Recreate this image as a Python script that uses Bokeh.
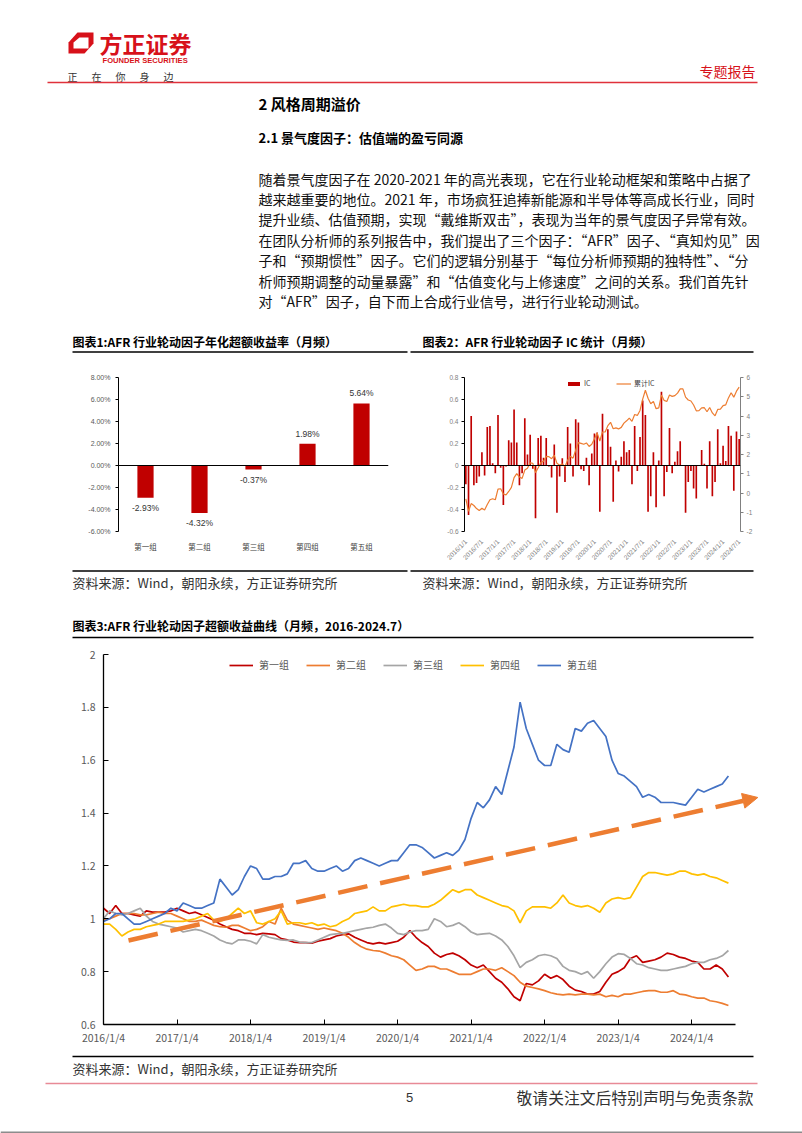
import math
from bokeh.plotting import figure
from bokeh.models import (Range1d, FactorRange, FixedTicker, LinearAxis, Span, Legend, LegendItem,
                          Arrow, NormalHead, PrintfTickFormatter)
from bokeh.layouts import column, row
from bokeh.core.properties import value
from bokeh.embed import file_html
from bokeh.resources import INLINE

CJK = "Noto Sans CJK SC"
LAT = "Liberation Sans"
RED = "#C00000"

# ---------------- data ----------------
groups = ["第一组", "第二组", "第三组", "第四组", "第五组"]
annual_excess = [-2.93, -4.32, -0.37, 1.98, 5.64]
pct_ticks = [-6, -4, -2, 0, 2, 4, 6, 8]

ic_values = [-0.17, -0.45, 0.45, -0.18, -0.16, -0.10, 0.12, -0.09, 0.35, 0.36, 0.02, -0.07,
             0.46, -0.02, -0.36, -0.01, 0.23, 0.21, 0.51, 0.21, -0.18, -0.07, 0.43, 0.10,
             0.28, -0.03, -0.48, 0.25, 0.27, 0.07, 0.25, -0.01, -0.11, 0.19, -0.43, -0.10,
             0.065, -0.15, 0.35, 0.20, -0.10, 0.42, 0.39, -0.035, -0.05, 0.07, -0.18, 0.11,
             0.29, 0.30, -0.42, 0.47, -0.005, 0.33, 0.17, -0.33, 0.045, -0.055, 0.08, 0.22,
             0.12, 0.14, -0.17, 0.36, -0.05, 0.26, 0.59, 0.46, -0.42, -0.28, 0.12, -0.38,
             0.045, 0.67, -0.28, -0.06, 0.34, -0.07, 0.035, 0.13, 0.22, 0.005, -0.43, -0.15,
             -0.05, -0.21, -0.30, 0.005, 0.14, 0.015, -0.21, 0.22, -0.28, -0.15, 0.33, 0.02,
             0.18, 0.04, 0.36, 0.27, -0.23, 0.31, 0.24]
ic_cum = [-0.30, -0.95, -0.55, -0.65, -0.81, -0.91, -0.79, -0.88, -0.60, -0.35, -0.30, -0.35,
          0.20, 0.22, -0.05, -0.10, 0.08, 0.29, 0.80, 1.01, 0.83, 0.76, 1.19, 1.29,
          1.57, 1.54, 1.06, 1.31, 1.58, 1.65, 1.90, 1.89, 1.78, 1.97, 1.54, 1.44,
          1.51, 1.36, 1.71, 1.91, 1.81, 2.23, 2.62, 2.58, 2.53, 2.60, 2.42, 2.53,
          2.82, 3.12, 2.70, 3.17, 3.17, 3.50, 3.67, 3.34, 3.38, 3.33, 3.41, 3.63,
          3.75, 3.89, 3.72, 4.08, 4.03, 4.29, 4.88, 5.34, 4.92, 4.64, 4.76, 4.38,
          4.42, 5.09, 4.81, 4.75, 5.09, 5.02, 5.06, 5.19, 5.41, 5.41, 4.98, 4.83,
          4.78, 4.57, 4.27, 4.28, 4.42, 4.43, 4.22, 4.44, 4.16, 4.01, 4.34, 4.36,
          4.54, 4.58, 4.94, 5.21, 4.98, 5.29, 5.50]
ic_tick_labels = ["2016/1/1", "2016/7/1", "2017/1/1", "2017/7/1", "2018/1/1", "2018/7/1",
                  "2019/1/1", "2019/7/1", "2020/1/1", "2020/7/1", "2021/1/1", "2021/7/1",
                  "2022/1/1", "2022/7/1", "2023/1/1", "2023/7/1", "2024/1/1", "2024/7/1"]
ic_left_ticks = [-0.6, -0.4, -0.2, 0, 0.2, 0.4, 0.6, 0.8]
ic_left_labels = ["-0.6", "-0.4", "-0.2", "0", "0.2", "0.4", "0.6", "0.8"]
ic_right_ticks = [-2, -1, 0, 1, 2, 3, 4, 5, 6]

curve_names = ["第一组", "第二组", "第三组", "第四组", "第五组"]
curve_g1 = [1.04, 1.02, 1.05, 1.02, 1.02, 1.015, 1.01, 1.03, 1.025, 1.025, 1.025, 1.03,
            1.04, 1.03, 1.02, 1.025, 1.015, 1.005, 0.995, 0.98, 0.97, 0.96, 0.955, 0.945,
            0.945, 0.94, 0.945, 0.943, 0.94, 0.925, 0.92, 0.912, 0.91, 0.91, 0.908, 0.915,
            0.92, 0.925, 0.935, 0.94, 0.943, 0.93, 0.92, 0.91, 0.905, 0.91, 0.905, 0.91,
            0.915, 0.93, 0.955, 0.93, 0.91, 0.895, 0.87, 0.855, 0.865, 0.87, 0.86, 0.845,
            0.825, 0.815, 0.825, 0.80, 0.775, 0.76, 0.735, 0.705, 0.69, 0.755, 0.75, 0.765,
            0.79, 0.775, 0.785, 0.77, 0.745, 0.73, 0.725, 0.715, 0.715, 0.725, 0.76, 0.79,
            0.80, 0.815, 0.85, 0.86, 0.835, 0.84, 0.845, 0.855, 0.87, 0.865, 0.855, 0.85,
            0.84, 0.835, 0.81, 0.81, 0.825, 0.81, 0.78]
curve_g2 = [0.995, 1.00, 1.01, 1.02, 1.02, 1.02, 1.015, 1.015, 1.02, 1.025, 1.02, 1.02,
            1.01, 1.00, 0.99, 0.99, 0.995, 0.985, 0.975, 0.97, 0.968, 0.975, 0.975, 0.965,
            0.955, 0.96, 0.97, 0.99, 0.98, 1.04, 0.995, 0.98, 0.975, 0.97, 0.965, 0.96,
            0.965, 0.96, 0.955, 0.945, 0.93, 0.91, 0.895, 0.885, 0.88, 0.878, 0.87, 0.86,
            0.855, 0.845, 0.825, 0.805, 0.81, 0.82, 0.82, 0.81, 0.81, 0.80, 0.79, 0.79,
            0.79, 0.80, 0.81, 0.81, 0.805, 0.815, 0.80, 0.785, 0.76, 0.745, 0.74, 0.735,
            0.728, 0.72, 0.715, 0.712, 0.715, 0.712, 0.715, 0.715, 0.712, 0.715, 0.705, 0.71,
            0.705, 0.715, 0.715, 0.72, 0.725, 0.728, 0.728, 0.722, 0.722, 0.728, 0.715, 0.712,
            0.705, 0.70, 0.70, 0.69, 0.686, 0.68, 0.672]
curve_g3 = [1.00, 1.03, 1.02, 1.015, 1.02, 1.03, 1.04, 1.01, 0.99, 0.98, 0.975, 0.97,
            0.965, 0.95, 0.955, 0.96, 0.955, 0.945, 0.935, 0.92, 0.91, 0.905, 0.92, 0.92,
            0.915, 0.905, 0.94, 0.93, 0.925, 0.92, 0.918, 0.92, 0.912, 0.91, 0.91, 0.92,
            0.93, 0.94, 0.943, 0.945, 0.95, 0.955, 0.96, 0.965, 0.968, 0.975, 0.98, 0.965,
            0.945, 0.94, 0.95, 0.955, 0.955, 0.96, 1.00, 0.99, 0.97, 0.975, 0.985, 0.97,
            0.95, 0.94, 0.943, 0.945, 0.935, 0.92, 0.895, 0.86, 0.815, 0.835, 0.845, 0.86,
            0.865, 0.86, 0.85, 0.82, 0.805, 0.80, 0.79, 0.80, 0.775, 0.80, 0.83, 0.855,
            0.868, 0.865, 0.85, 0.83, 0.825, 0.815, 0.81, 0.805, 0.805, 0.81, 0.815, 0.82,
            0.83, 0.835, 0.835, 0.845, 0.85, 0.86, 0.88]
curve_g4 = [0.98, 0.98, 0.96, 0.935, 0.95, 0.96, 0.96, 0.97, 0.975, 0.98, 0.99, 0.99,
            0.99, 0.99, 0.995, 1.00, 1.01, 1.02, 0.995, 0.99, 1.00, 1.02, 1.04, 1.02,
            1.03, 0.985, 0.98, 0.99, 1.00, 1.03, 0.98, 0.985, 0.985, 0.98, 0.985, 0.975,
            0.98, 0.97, 0.975, 0.99, 1.00, 1.02, 1.025, 1.03, 1.045, 1.03, 1.03, 1.045,
            1.05, 1.055, 1.05, 1.05, 1.045, 1.045, 1.055, 1.07, 1.09, 1.11, 1.10, 1.11,
            1.11, 1.09, 1.08, 1.07, 1.06, 1.05, 1.045, 1.03, 0.985, 1.03, 1.045, 1.045,
            1.045, 1.04, 1.06, 1.09, 1.06, 1.05, 1.045, 1.05, 1.04, 1.025, 1.06, 1.075,
            1.08, 1.075, 1.08, 1.12, 1.16, 1.175, 1.175, 1.17, 1.165, 1.17, 1.18, 1.18,
            1.17, 1.165, 1.17, 1.16, 1.155, 1.145, 1.135]
curve_g5 = [0.99, 1.00, 1.02, 1.02, 1.00, 0.98, 0.98, 0.99, 1.00, 1.01, 1.02, 1.04,
            1.03, 1.06, 1.05, 1.04, 1.04, 1.05, 1.06, 1.15, 1.12, 1.09, 1.11, 1.16,
            1.20, 1.19, 1.15, 1.15, 1.16, 1.16, 1.17, 1.21, 1.21, 1.22, 1.19, 1.18,
            1.18, 1.19, 1.20, 1.18, 1.19, 1.22, 1.23, 1.22, 1.21, 1.20, 1.21, 1.22,
            1.22, 1.25, 1.28, 1.28, 1.27, 1.25, 1.23, 1.24, 1.25, 1.24, 1.26, 1.30,
            1.38, 1.44, 1.42, 1.45, 1.50, 1.47, 1.56, 1.65, 1.82, 1.72, 1.66, 1.60,
            1.58, 1.58, 1.66, 1.64, 1.63, 1.72, 1.71, 1.74, 1.75, 1.72, 1.69, 1.60,
            1.55, 1.54, 1.52, 1.50, 1.46, 1.47, 1.46, 1.44, 1.44, 1.44, 1.435, 1.43,
            1.46, 1.49, 1.48, 1.49, 1.50, 1.51, 1.54]
curve_start_year = 2016
curve_tick_years = [2016, 2017, 2018, 2019, 2020, 2021, 2022, 2023, 2024]
curve_tick_labels = ["2016/1/4", "2017/1/4", "2018/1/4", "2019/1/4", "2020/1/4",
                     "2021/1/4", "2022/1/4", "2023/1/4", "2024/1/4"]
curve_y_ticks = [0.6, 0.8, 1.0, 1.2, 1.4, 1.6, 1.8, 2.0]
curve_y_labels = ["0.6", "0.8", "1", "1.2", "1.4", "1.6", "1.8", "2"]
curve_colors = ["#C00000", "#ED7D31", "#A5A5A5", "#FFC000", "#4472C4"]
trend_start = (2016.34, 0.918)
trend_end = (2024.90, 1.459)

paragraph = [
    "随着景气度因子在 2020-2021 年的高光表现，它在行业轮动框架和策略中占据了",
    "越来越重要的地位。2021 年，市场疯狂追捧新能源和半导体等高成长行业，同时",
    "提升业绩、估值预期，实现“戴维斯双击”，表现为当年的景气度因子异常有效。",
    "在团队分析师的系列报告中，我们提出了三个因子：“AFR”因子、“真知灼见”因",
    "子和“预期惯性”因子。它们的逻辑分别基于“每位分析师预期的独特性”、“分",
    "析师预期调整的动量暴露”和“估值变化与上修速度”之间的关系。我们首先针",
    "对“AFR”因子，自下而上合成行业信号，进行行业轮动测试。",
]
source_text = "资料来源：Wind，朝阳永续，方正证券研究所"


# ---------------- helpers ----------------
def band(h, y0):
    p = figure(width=802, height=h, x_range=Range1d(0, 802), y_range=Range1d(y0 + h, y0),
               output_backend="svg", toolbar_location=None, x_axis_location=None,
               y_axis_location=None, min_border=0, outline_line_color=None,
               background_fill_color="white", border_fill_color="white")
    p.xgrid.visible = False
    p.ygrid.visible = False
    return p


def txt(p, x, y, s, size, color="#000000", bold=False, align="left", font=CJK):
    p.text(x=[x], y=[y], text=[s], text_font=value(font), text_font_size=size,
           text_color=color, text_align=align, text_baseline="middle",
           text_font_style="bold" if bold else "normal")


def hline(p, x0, x1, y, color="#000000", w=1.5):
    p.line(x=[x0, x1], y=[y, y], line_color=color, line_width=w)


# ---------------- top band: header + text ----------------
top = band(322, 0)
top.patch(x=[68, 68, 77, 93, 93, 84], y=[53, 42, 32, 32, 43, 53], fill_color="#D7111A", line_color=None)
top.patch(x=[73, 73, 79, 88, 88], y=[48, 42, 37, 37, 48], fill_color="white", line_color=None)
txt(top, 99, 42, "方正证券", "23px", "#D7111A", bold=True)
txt(top, 102, 60, "FOUNDER SECURITIES", "7.6px", "#D7111A", bold=True, font=LAT)
for cx, ch in zip([72, 96, 120, 144, 168], ["正", "在", "你", "身", "边"]):
    txt(top, cx, 76, ch, "10px", "#333333", align="center")
txt(top, 755, 70, "专题报告", "14px", "#D7111A", align="right")
hline(top, 47, 757, 82, "#E0313B", 1.5)
txt(top, 258, 103, "2 风格周期溢价", "15px", bold=True)
txt(top, 258, 137, "2.1 景气度因子：估值端的盈亏同源", "13px", bold=True)
for i, line in enumerate(paragraph):
    txt(top, 258, 178 + 20.4 * i, line, "14px", "#111111")

# ---------------- chart 1/2 titles ----------------
t12 = band(38, 322)
txt(t12, 72, 341, "图表1:AFR 行业轮动因子年化超额收益率（月频）", "12px", bold=True)
txt(t12, 422, 341, "图表2：AFR 行业轮动因子 IC 统计（月频）", "12px", bold=True)
hline(t12, 72, 407, 351.5)
hline(t12, 410, 753, 351.5)

# ---------------- chart 1 ----------------
c1 = figure(width=410, height=208, x_range=FactorRange(factors=groups, range_padding=0),
            y_range=Range1d(-6, 8), output_backend="svg", toolbar_location=None,
            min_border_left=118, min_border_right=22, min_border_top=17, min_border_bottom=23,
            outline_line_color=None, background_fill_color="white", border_fill_color="white")
c1.xgrid.visible = False
c1.ygrid.visible = False
c1.vbar(x=groups, top=annual_excess, width=0.3, fill_color=RED, line_color=None)
c1.add_layout(Span(location=0, dimension="width", line_color="#000000", line_width=1))
pos = [(g, v) for g, v in zip(groups, annual_excess) if v >= 0]
neg = [(g, v) for g, v in zip(groups, annual_excess) if v < 0]
c1.text(x=[g for g, v in pos], y=[v for g, v in pos], text=["%.2f%%" % v for g, v in pos],
        text_font=value(LAT), text_font_size="8.5px", text_color="#333333", text_align="center",
        text_baseline="bottom", y_offset=-5)
c1.text(x=[g for g, v in neg], y=[v for g, v in neg], text=["%.2f%%" % v for g, v in neg],
        text_font=value(LAT), text_font_size="8.5px", text_color="#333333", text_align="center",
        text_baseline="top", y_offset=5)
c1.yaxis.ticker = FixedTicker(ticks=pct_ticks)
c1.yaxis.formatter = PrintfTickFormatter(format="%.2f%%")
c1.yaxis.major_label_text_font = LAT
c1.yaxis.major_label_text_font_size = "7px"
c1.yaxis.major_label_text_color = "#595959"
c1.yaxis.axis_line_color = "#000000"
c1.yaxis.major_tick_line_color = "#000000"
c1.yaxis.major_tick_out = 3
c1.yaxis.major_tick_in = 0
c1.yaxis.minor_tick_line_color = None
c1.xaxis.axis_line_color = None
c1.xaxis.major_tick_line_color = None
c1.xaxis.major_label_text_font = CJK
c1.xaxis.major_label_text_font_size = "7.5px"
c1.xaxis.major_label_text_color = "#404040"
c1.xaxis.major_label_standoff = 3

# ---------------- chart 2 ----------------
ic_idx = list(range(len(ic_values)))
c2 = figure(width=392, height=208, x_range=Range1d(-0.5, len(ic_values) - 0.5),
            y_range=Range1d(-0.6, 0.8), output_backend="svg", toolbar_location=None,
            min_border_left=54, min_border_right=62, min_border_top=16, min_border_bottom=37,
            outline_line_color=None, background_fill_color="white", border_fill_color="white")
c2.extra_y_ranges = {"cum": Range1d(-2, 6)}
c2.xgrid.visible = False
c2.ygrid.visible = False
bars = c2.vbar(x=ic_idx, top=ic_values, width=0.62, fill_color=RED, line_color=None)
cum = c2.line(x=ic_idx, y=ic_cum, y_range_name="cum", line_color="#ED7D31", line_width=1.2)
c2.add_layout(Span(location=0, dimension="width", line_color="#000000", line_width=1))
ra = LinearAxis(y_range_name="cum", ticker=FixedTicker(ticks=ic_right_ticks))
ra.major_label_overrides = {t: str(t) for t in ic_right_ticks}
c2.add_layout(ra, "right")
c2.yaxis[0].ticker = FixedTicker(ticks=ic_left_ticks)
c2.yaxis[0].major_label_overrides = dict(zip(ic_left_ticks, ic_left_labels))
for ax in c2.yaxis:
    ax.major_label_text_font = LAT
    ax.major_label_text_font_size = "6.5px"
    ax.major_label_text_color = "#808080"
    ax.major_tick_out = 3
    ax.major_tick_in = 0
    ax.minor_tick_line_color = None
    ax.major_label_standoff = 3
c2.yaxis[0].axis_line_color = "#000000"
c2.yaxis[0].major_tick_line_color = "#000000"
ra.axis_line_color = "#808080"
ra.major_tick_line_color = "#808080"
c2.xaxis.ticker = FixedTicker(ticks=[6 * k for k in range(len(ic_tick_labels))])
c2.xaxis.major_label_overrides = {6 * k: s for k, s in enumerate(ic_tick_labels)}
c2.xaxis.major_label_orientation = math.pi / 4
c2.xaxis.axis_line_color = None
c2.xaxis.major_tick_line_color = None
c2.xaxis.minor_tick_line_color = None
c2.xaxis.major_label_text_font = LAT
c2.xaxis.major_label_text_font_size = "6.5px"
c2.xaxis.major_label_text_color = "#808080"
c2.xaxis.major_label_standoff = 3
lg2 = Legend(items=[LegendItem(label="IC", renderers=[bars]), LegendItem(label="累计IC", renderers=[cum])],
             orientation="horizontal", location=(102, 143), padding=0, margin=0, spacing=12,
             glyph_width=15, glyph_height=5, label_height=8, label_standoff=3,
             label_text_font=CJK, label_text_font_size="7px", label_text_color="#404040",
             border_line_color=None, background_fill_alpha=0)
c2.add_layout(lg2)

# ---------------- sources for chart 1/2 ----------------
s12 = band(27, 568)
hline(s12, 72, 407, 570.5)
hline(s12, 410, 753, 570.5)
txt(s12, 72, 582, source_text, "13px", "#333333")
txt(s12, 422, 582, source_text, "13px", "#333333")

# ---------------- chart 3 title ----------------
t3 = band(50, 595)
txt(t3, 72, 625, "图表3:AFR 行业轮动因子超额收益曲线（月频，2016-2024.7）", "12px", bold=True)
hline(t3, 72, 753, 637)

# ---------------- chart 3 ----------------
curve_x = [curve_start_year + i / 12 for i in range(len(curve_g1))]
c3 = figure(width=802, height=405, x_range=Range1d(2016, 2024.95), y_range=Range1d(0.6, 2.0),
            output_backend="svg", toolbar_location=None,
            min_border_left=103, min_border_right=41, min_border_top=9, min_border_bottom=26,
            outline_line_color=None, background_fill_color="white", border_fill_color="white")
c3.xgrid.visible = False
c3.ygrid.visible = False
items = []
for name, ys, col in zip(curve_names, [curve_g1, curve_g2, curve_g3, curve_g4, curve_g5], curve_colors):
    r = c3.line(x=curve_x, y=ys, line_color=col, line_width=1.7)
    items.append(LegendItem(label=name, renderers=[r]))
c3.add_layout(Arrow(end=NormalHead(size=15, fill_color="#ED7D31", line_color="#ED7D31"),
                    x_start=trend_start[0], y_start=trend_start[1],
                    x_end=trend_end[0], y_end=trend_end[1],
                    line_color="#ED7D31", line_width=4.5, line_dash="30 13"))
c3.xaxis.ticker = FixedTicker(ticks=curve_tick_years)
c3.xaxis.major_label_overrides = dict(zip(curve_tick_years, curve_tick_labels))
c3.xaxis.bounds = (2016, 2024.6)
c3.yaxis.ticker = FixedTicker(ticks=curve_y_ticks)
c3.yaxis.major_label_overrides = dict(zip(curve_y_ticks, curve_y_labels))
for ax in (c3.xaxis[0], c3.yaxis[0]):
    ax.axis_line_color = "#000000"
    ax.axis_line_width = 1.3
    ax.major_tick_line_color = "#000000"
    ax.major_tick_in = 5
    ax.major_tick_out = 0
    ax.minor_tick_line_color = None
    ax.major_label_text_font = CJK
    ax.major_label_text_font_size = "10.5px"
    ax.major_label_text_color = "#595959"
c3.yaxis.major_label_standoff = 8
c3.xaxis.major_label_standoff = 5
lg3 = Legend(items=items, orientation="horizontal", location=(126, 352), padding=0, margin=0,
             spacing=17, glyph_width=24, glyph_height=12, label_height=14, label_standoff=6,
             label_text_font=CJK, label_text_font_size="10px", label_text_color="#595959",
             border_line_color=None, background_fill_alpha=0)
c3.add_layout(lg3)

# ---------------- bottom band ----------------
bot = band(83, 1050)
hline(bot, 72, 753, 1056)
txt(bot, 72, 1068, source_text, "13px", "#333333")
hline(bot, 45, 757, 1083, "#E88A96", 1.3)
txt(bot, 409, 1097, "5", "13px", "#333333", align="center", font=LAT)
txt(bot, 753, 1097, "敬请关注文后特别声明与免责条款", "15.8px", "#333333", align="right")
hline(bot, 0, 802, 1132, "#8c8c8c", 2)

layout = column(row(top), row(t12), row(c1, c2), row(s12), row(t3), row(c3), row(bot))
open("out.html", "w").write(file_html(layout, INLINE))
